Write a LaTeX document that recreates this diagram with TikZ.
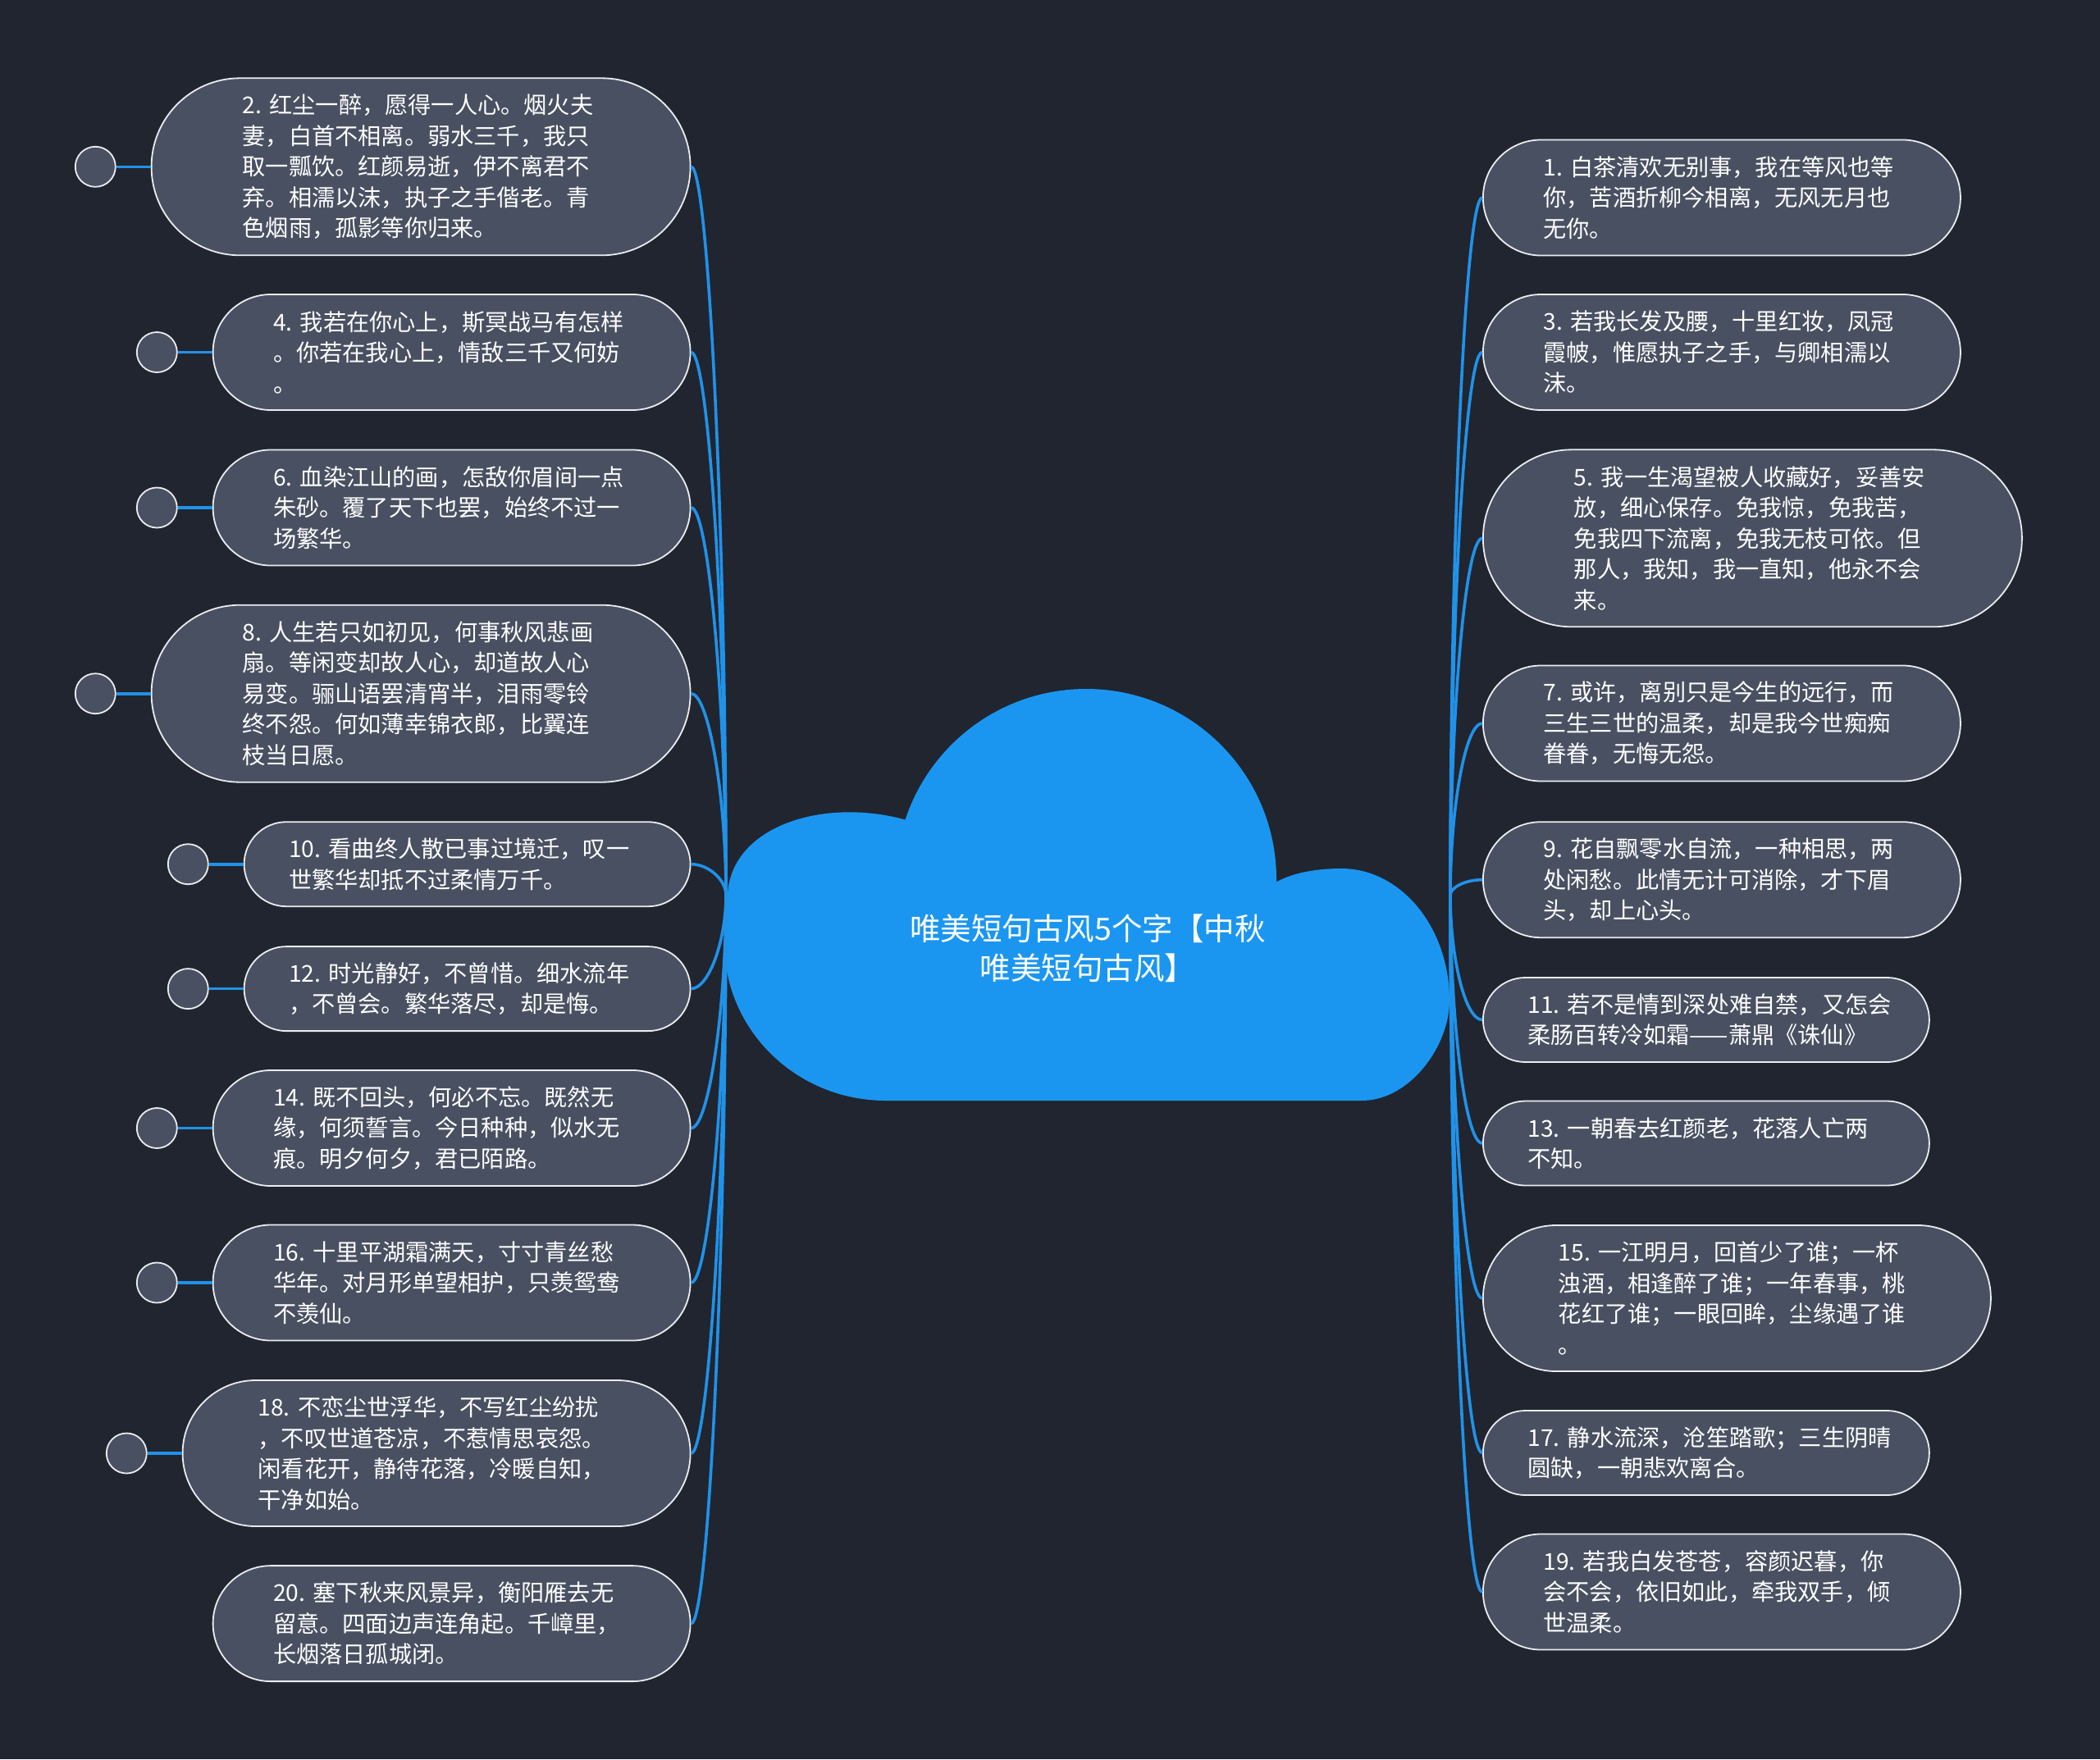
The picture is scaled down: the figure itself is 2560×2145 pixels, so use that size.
\documentclass[tikz,border=0pt]{standalone}
\usepackage{fontspec}
\usetikzlibrary{calc,positioning}
\newfontfamily\cjk{Noto Sans CJK SC}
\definecolor{bgdark}{RGB}{33,37,48}
\definecolor{leaffill}{RGB}{73,80,97}
\definecolor{edgegray}{RGB}{235,236,240}
\definecolor{cloudblue}{RGB}{27,150,240}
\definecolor{linkblue}{RGB}{32,146,232}

\tikzset{
  leaf/.style={rectangle, draw=edgegray, line width=1.8pt, fill=leaffill, text=white,
    align=left, text width=435pt, inner ysep=0pt,
    font={\cjk\fontsize{28.2}{37.5}\selectfont\frenchspacing}},
  twoline/.style={leaf, minimum height=103pt, inner xsep=54.5pt, rounded corners=51.5pt},
  threeline/.style={leaf, minimum height=141pt, inner xsep=73.5pt, rounded corners=70.5pt},
  fourline/.style={leaf, minimum height=178pt, inner xsep=92pt, rounded corners=89pt},
  fiveline/.style={leaf, minimum height=216pt, inner xsep=111pt, rounded corners=108pt},
  knob/.style={circle, draw=edgegray, line width=1.8pt, fill=leaffill, minimum size=49pt, inner sep=0pt},
  branch/.style={draw=linkblue, line width=3.6pt},
  titletext/.style={text=white, align=center, font={\cjk\fontsize{37.5}{48}\selectfont}},
}

\begin{document}
\begin{tikzpicture}[x=1pt, y=-1pt]

\useasboundingbox (0,0) rectangle (2560,2145);
\fill[bgdark] (0,0) rectangle (2560,2145);

% CLOUD
\fill[cloudblue] (1324,1072) circle (232);
\fill[cloudblue] (1112,1002) .. controls (1010,970) and (892,1005) .. (887,1090)
  -- (883,1150) .. controls (883,1256) and (971,1342) .. (1080,1342)
  -- (1660,1342) .. controls (1719,1342) and (1767,1275) .. (1767,1220)
  .. controls (1767,1131) and (1708,1059) .. (1635,1059)
  .. controls (1600,1059) and (1572,1066) .. (1555,1076)
  -- (1324,1150) -- cycle;
\node[titletext] (root) at (1326,1156) {唯美短句古风5个字【中秋\\唯美短句古风】};
\coordinate (rootW) at (885,1091.5);
\coordinate (rootE) at (1768,1091.5);

% LEFT BOXES (even numbers)
\node[fiveline, anchor=east] (l2) at (842.5,203.3) {2.~红尘一醉，愿得一人心。烟火夫\\妻，白首不相离。弱水三千，我只\\取一瓢饮。红颜易逝，伊不离君不\\弃。相濡以沫，执子之手偕老。青\\色烟雨，孤影等你归来。};
\node[threeline, anchor=east] (l4) at (842.5,429.5) {4.~我若在你心上，斯冥战马有怎样\\。你若在我心上，情敌三千又何妨\\。};
\node[threeline, anchor=east] (l6) at (842.5,619) {6.~血染江山的画，怎敌你眉间一点\\朱砂。覆了天下也罢，始终不过一\\场繁华。};
\node[fiveline, anchor=east] (l8) at (842.5,845.7) {8.~人生若只如初见，何事秋风悲画\\扇。等闲变却故人心，却道故人心\\易变。骊山语罢清宵半，泪雨零铃\\终不怨。何如薄幸锦衣郎，比翼连\\枝当日愿。};
\node[twoline, anchor=east] (l10) at (842.5,1053.7) {10.~看曲终人散已事过境迁，叹一\\世繁华却抵不过柔情万千。};
\node[twoline, anchor=east] (l12) at (842.5,1205.6) {12.~时光静好，不曾惜。细水流年\\，不曾会。繁华落尽，却是悔。};
\node[threeline, anchor=east] (l14) at (842.5,1375.5) {14.~既不回头，何必不忘。既然无\\缘，何须誓言。今日种种，似水无\\痕。明夕何夕，君已陌路。};
\node[threeline, anchor=east] (l16) at (842.5,1564) {16.~十里平湖霜满天，寸寸青丝愁\\华年。对月形单望相护，只羡鸳鸯\\不羡仙。};
\node[fourline, anchor=east] (l18) at (842.5,1772) {18.~不恋尘世浮华，不写红尘纷扰\\，不叹世道苍凉，不惹情思哀怨。\\闲看花开，静待花落，冷暖自知，\\干净如始。};
\node[threeline, anchor=east] (l20) at (842.5,1979.6) {20.~塞下秋来风景异，衡阳雁去无\\留意。四面边声连角起。千嶂里，\\长烟落日孤城闭。};

% RIGHT BOXES (odd numbers)
\node[threeline, anchor=west] (r1) at (1807,241) {1.~白茶清欢无别事，我在等风也等\\你，苦酒折柳今相离，无风无月也\\无你。};
\node[threeline, anchor=west] (r3) at (1807,429.5) {3.~若我长发及腰，十里红妆，凤冠\\霞帔，惟愿执子之手，与卿相濡以\\沫。};
\node[fiveline, anchor=west] (r5) at (1807,656.3) {5.~我一生渴望被人收藏好，妥善安\\放，细心保存。免我惊，免我苦，\\免我四下流离，免我无枝可依。但\\那人，我知，我一直知，他永不会\\来。};
\node[threeline, anchor=west] (r7) at (1807,882) {7.~或许，离别只是今生的远行，而\\三生三世的温柔，却是我今世痴痴\\眷眷，无悔无怨。};
\node[threeline, anchor=west] (r9) at (1807,1072.7) {9.~花自飘零水自流，一种相思，两\\处闲愁。此情无计可消除，才下眉\\头，却上心头。};
\node[twoline, anchor=west] (r11) at (1807,1243.5) {11.~若不是情到深处难自禁，又怎会\\柔肠百转冷如霜——萧鼎《诛仙》};
\node[twoline, anchor=west] (r13) at (1807,1394) {13.~一朝春去红颜老，花落人亡两\\不知。};
\node[fourline, anchor=west] (r15) at (1807,1583) {15.~一江明月，回首少了谁；一杯\\浊酒，相逢醉了谁；一年春事，桃\\花红了谁；一眼回眸，尘缘遇了谁\\。};
\node[twoline, anchor=west] (r17) at (1807,1771.5) {17.~静水流深，沧笙踏歌；三生阴晴\\圆缺，一朝悲欢离合。};
\node[threeline, anchor=west] (r19) at (1807,1941) {19.~若我白发苍苍，容颜迟暮，你\\会不会，依旧如此，牵我双手，倾\\世温柔。};

% KNOBS on the left
\node[knob, left=42pt of l2] (k2) {};
\node[knob, left=42pt of l4] (k4) {};
\node[knob, left=42pt of l6] (k6) {};
\node[knob, left=42pt of l8] (k8) {};
\node[knob, left=42pt of l10] (k10) {};
\node[knob, left=42pt of l12] (k12) {};
\node[knob, left=42pt of l14] (k14) {};
\node[knob, left=42pt of l16] (k16) {};
\node[knob, left=42pt of l18] (k18) {};
\draw[branch] (k2) -- (l2);
\draw[branch] (k4) -- (l4);
\draw[branch] (k6) -- (l6);
\draw[branch] (k8) -- (l8);
\draw[branch] (k10) -- (l10);
\draw[branch] (k12) -- (l12);
\draw[branch] (k14) -- (l14);
\draw[branch] (k16) -- (l16);
\draw[branch] (k18) -- (l18);

% LEFT BRANCHES
\draw[branch] (rootW) .. controls ($(rootW)!0.5!(rootW|-l2.east)$) and ($(l2.east)+(21,0)$) .. (l2.east);
\draw[branch] (rootW) .. controls ($(rootW)!0.5!(rootW|-l4.east)$) and ($(l4.east)+(21,0)$) .. (l4.east);
\draw[branch] (rootW) .. controls ($(rootW)!0.5!(rootW|-l6.east)$) and ($(l6.east)+(21,0)$) .. (l6.east);
\draw[branch] (rootW) .. controls ($(rootW)!0.5!(rootW|-l8.east)$) and ($(l8.east)+(21,0)$) .. (l8.east);
\draw[branch] (rootW) .. controls ($(rootW)!0.5!(rootW|-l10.east)$) and ($(l10.east)+(21,0)$) .. (l10.east);
\draw[branch] (rootW) .. controls ($(rootW)!0.5!(rootW|-l12.east)$) and ($(l12.east)+(21,0)$) .. (l12.east);
\draw[branch] (rootW) .. controls ($(rootW)!0.5!(rootW|-l14.east)$) and ($(l14.east)+(21,0)$) .. (l14.east);
\draw[branch] (rootW) .. controls ($(rootW)!0.5!(rootW|-l16.east)$) and ($(l16.east)+(21,0)$) .. (l16.east);
\draw[branch] (rootW) .. controls ($(rootW)!0.5!(rootW|-l18.east)$) and ($(l18.east)+(21,0)$) .. (l18.east);
\draw[branch] (rootW) .. controls ($(rootW)!0.5!(rootW|-l20.east)$) and ($(l20.east)+(21,0)$) .. (l20.east);

% RIGHT BRANCHES
\draw[branch] (rootE) .. controls ($(rootE)!0.5!(rootE|-r1.west)$) and ($(r1.west)+(-21,0)$) .. (r1.west);
\draw[branch] (rootE) .. controls ($(rootE)!0.5!(rootE|-r3.west)$) and ($(r3.west)+(-21,0)$) .. (r3.west);
\draw[branch] (rootE) .. controls ($(rootE)!0.5!(rootE|-r5.west)$) and ($(r5.west)+(-21,0)$) .. (r5.west);
\draw[branch] (rootE) .. controls ($(rootE)!0.5!(rootE|-r7.west)$) and ($(r7.west)+(-21,0)$) .. (r7.west);
\draw[branch] (rootE) .. controls ($(rootE)!0.5!(rootE|-r9.west)$) and ($(r9.west)+(-21,0)$) .. (r9.west);
\draw[branch] (rootE) .. controls ($(rootE)!0.5!(rootE|-r11.west)$) and ($(r11.west)+(-21,0)$) .. (r11.west);
\draw[branch] (rootE) .. controls ($(rootE)!0.5!(rootE|-r13.west)$) and ($(r13.west)+(-21,0)$) .. (r13.west);
\draw[branch] (rootE) .. controls ($(rootE)!0.5!(rootE|-r15.west)$) and ($(r15.west)+(-21,0)$) .. (r15.west);
\draw[branch] (rootE) .. controls ($(rootE)!0.5!(rootE|-r17.west)$) and ($(r17.west)+(-21,0)$) .. (r17.west);
\draw[branch] (rootE) .. controls ($(rootE)!0.5!(rootE|-r19.west)$) and ($(r19.west)+(-21,0)$) .. (r19.west);

\end{tikzpicture}
\end{document}
